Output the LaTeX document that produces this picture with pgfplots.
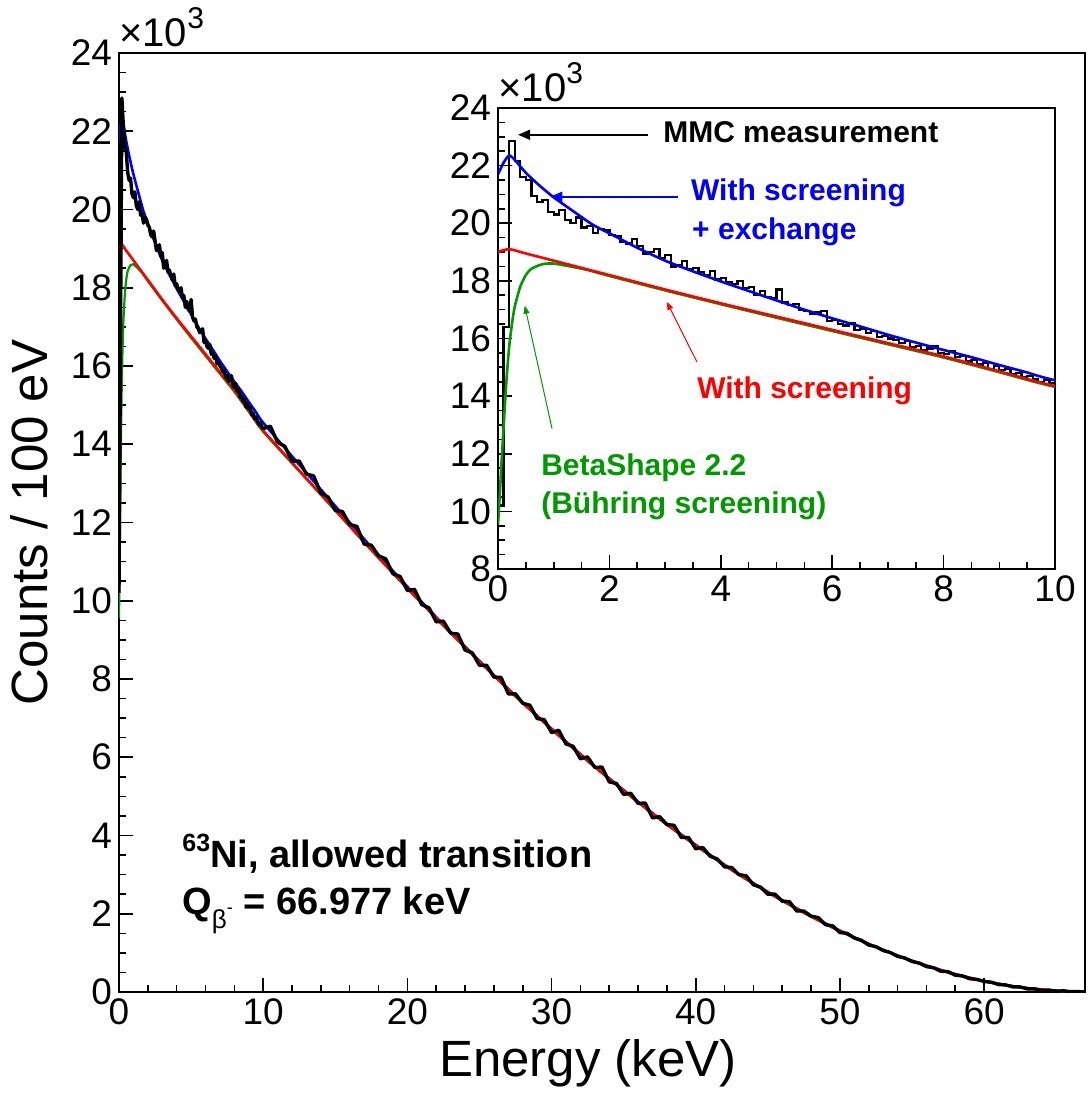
\documentclass[border=0pt]{standalone}
\usepackage{fontspec}
\setmainfont{Liberation Sans}
\usepackage{pgfplots}
\usepackage{pgfplotstable}
\pgfplotsset{compat=1.18}
\usetikzlibrary{arrows.meta}
\definecolor{rgreen}{RGB}{0,153,0}
\definecolor{rblue}{RGB}{0,0,255}
\definecolor{rred}{RGB}{255,0,0}

% measured spectrum (thousands of counts / 100 eV), 0.1 keV bins up to 10 keV
\pgfplotstableread{
x y
0.0 10.2
0.1 16.4
0.2 22.85
0.3 22.15
0.4 21.6
0.5 21.5
0.6 20.95
0.7 20.75
0.8 20.8
0.9 20.4
1.0 20.3
1.1 20.45
1.2 20.1
1.3 20.0
1.4 20.2
1.5 19.85
1.6 19.9
1.7 19.65
1.8 19.8
1.9 19.75
2.0 19.6
2.1 19.55
2.2 19.35
2.3 19.3
2.4 19.45
2.5 19.2
2.6 18.95
2.7 19.0
2.8 19.1
2.9 18.8
3.0 18.9
3.1 18.5
3.2 18.55
3.3 18.7
3.4 18.4
3.5 18.45
3.6 18.3
3.7 18.2
3.8 18.35
3.9 18.05
4.0 18.1
4.1 17.95
4.2 17.9
4.3 18.0
4.4 17.75
4.5 17.8
4.6 17.5
4.7 17.65
4.8 17.45
4.9 17.4
5.0 17.7
5.1 17.25
5.2 17.15
5.3 17.2
5.4 17.0
5.5 16.95
5.6 16.85
5.7 16.9
5.8 16.95
5.9 16.6
6.0 16.65
6.1 16.5
6.2 16.45
6.3 16.55
6.4 16.3
6.5 16.35
6.6 16.2
6.7 16.25
6.8 16.05
6.9 16.1
7.0 16.0
7.1 15.95
7.2 15.85
7.3 15.9
7.4 15.7
7.5 15.75
7.6 15.6
7.7 15.65
7.8 15.75
7.9 15.5
8.0 15.45
8.1 15.55
8.2 15.35
8.3 15.4
8.4 15.2
8.5 15.25
8.6 15.1
8.7 15.15
8.8 14.95
8.9 15.05
9.0 14.9
9.1 14.95
9.2 14.75
9.3 14.8
9.4 14.65
9.5 14.7
9.6 14.6
9.7 14.5
9.8 14.55
9.9 14.45
10.0 14.4
10.5 14.46
11.0 14.05
11.5 13.95
12.0 13.57
12.5 13.57
13.0 13.24
13.5 13.19
14.0 12.75
14.5 12.65
15.0 12.31
15.5 12.28
16.0 11.95
16.5 11.90
17.0 11.45
17.5 11.42
18.0 11.15
18.5 11.07
19.0 10.69
19.5 10.62
20.0 10.26
20.5 10.29
21.0 9.90
21.5 9.82
22.0 9.46
22.5 9.48
23.0 9.17
23.5 9.15
24.0 8.74
24.5 8.67
25.0 8.35
25.5 8.35
26.0 8.05
26.5 8.04
27.0 7.62
27.5 7.62
28.0 7.38
28.5 7.33
29.0 6.99
29.5 6.96
30.0 6.63
30.5 6.69
31.0 6.34
31.5 6.28
32.0 5.96
32.5 6.01
33.0 5.74
33.5 5.75
34.0 5.37
34.5 5.33
35.0 5.05
35.5 5.08
36.0 4.82
36.5 4.83
37.0 4.45
37.5 4.48
38.0 4.28
38.5 4.26
39.0 3.95
39.5 3.95
40.0 3.66
40.5 3.69
41.0 3.47
41.5 3.40
42.0 3.20
42.5 3.18
43.0 3.00
43.5 2.97
44.0 2.74
44.5 2.68
45.0 2.50
45.5 2.50
46.0 2.32
46.5 2.31
47.0 2.07
47.5 2.07
48.0 1.94
48.5 1.90
49.0 1.72
49.5 1.69
50.0 1.52
50.5 1.50
51.0 1.38
51.5 1.32
52.0 1.20
52.5 1.16
53.0 1.06
53.5 1.01
54.0 0.91
54.5 0.87
55.0 0.78
55.5 0.74
56.0 0.65
56.5 0.62
57.0 0.53
57.5 0.52
58.0 0.43
58.5 0.41
59.0 0.34
59.5 0.32
60.0 0.27
60.5 0.25
61.0 0.19
61.5 0.18
62.0 0.13
62.5 0.13
63.0 0.08
63.5 0.08
64.0 0.04
64.5 0.05
65.0 0.02
65.5 0.03
66.0 0.01
66.5 0.01
67.0 0.00
}\meas

% screening + exchange
\pgfplotstableread{
x y
0 21.7
0.1 22.1
0.2 22.35
0.3 22.2
0.5 21.75
0.75 21.3
1.0 20.9
1.4 20.35
1.7 19.95
2.1 19.55
2.5 19.15
3.0 18.7
3.5 18.33
4.0 17.98
4.5 17.65
5.0 17.32
5.5 17.0
6.0 16.7
6.5 16.42
7.0 16.13
7.5 15.86
8.0 15.6
8.5 15.35
9.0 15.08
9.5 14.82
10 14.55
12.5 13.48
15 12.42
17.5 11.37
20 10.36
22.5 9.39
25 8.46
27.5 7.57
30 6.73
32.5 5.92
35 5.16
37.5 4.43
40 3.76
42.5 3.13
45 2.56
47.5 2.04
50 1.57
52.5 1.15
55 0.80
57.5 0.51
60 0.28
62.5 0.12
65 0.03
66.977 0
}\blue

% screening only
\pgfplotstableread{
x y
0 19.0
0.2 19.1
0.5 18.95
1 18.7
2 18.2
3 17.7
4 17.22
5 16.76
6 16.3
7 15.84
8 15.38
9 14.86
10 14.35
12.5 13.33
15 12.32
17.5 11.3
20 10.32
22.5 9.37
25 8.45
27.5 7.56
30 6.72
32.5 5.91
35 5.15
37.5 4.42
40 3.75
42.5 3.12
45 2.55
47.5 2.03
50 1.56
52.5 1.15
55 0.79
57.5 0.50
60 0.28
62.5 0.12
65 0.03
66.977 0
}\red

% BetaShape 2.2
\pgfplotstableread{
x y
0 9.55
0.03 10.5
0.06 11.6
0.1 12.9
0.15 14.5
0.2 15.7
0.25 16.5
0.3 17.1
0.4 17.8
0.5 18.2
0.6 18.42
0.8 18.58
1.0 18.6
1.3 18.5
1.6 18.38
2 18.17
3 17.67
4 17.19
5 16.72
6 16.26
7 15.8
8 15.34
9 14.83
10 14.32
12.5 13.31
15 12.30
17.5 11.29
20 10.31
22.5 9.36
25 8.44
27.5 7.55
30 6.71
32.5 5.90
35 5.14
37.5 4.41
40 3.74
42.5 3.11
45 2.54
47.5 2.02
50 1.55
52.5 1.14
55 0.79
57.5 0.50
60 0.27
62.5 0.12
65 0.03
66.977 0
}\green

\pgfplotsset{
  rootaxis/.style={
    scale only axis,
    tick align=inside,
    tick pos=left,
    major tick length=7pt,
    minor tick length=3.5pt,
    axis line style={line width=0.9pt},
    every tick/.style={black, line width=0.8pt},
    /pgf/number format/assume math mode=true,
    tick label style={font=\fontsize{18.5}{18.5}\selectfont},
    clip mode=individual,
  }
}

\begin{document}
\begin{tikzpicture}
\useasboundingbox (-59.5pt,-57pt) rectangle (484pt,496pt);

\begin{axis}[rootaxis,
  at={(0pt,0pt)}, anchor=south west,
  width=483pt, height=469.5pt,
  xmin=0, xmax=67, ymin=0, ymax=24,
  xtick={0,10,...,60}, minor x tick num=4,
  ytick={0,2,...,24}, minor y tick num=3,
  xlabel={Energy (keV)}, ylabel={Counts / 100 eV},
  label style={font=\fontsize{25.5}{25.5}\selectfont},
  xlabel style={at={(axis description cs:0.4855,-0.0895)}, anchor=base},
  ylabel style={at={(axis description cs:-0.0745,0.5)}, anchor=base, rotate=0},
]
\addplot[rblue, line width=1.3pt, smooth, tension=0.4] table[x=x,y=y]{\blue};
\addplot[rgreen, line width=1.1pt, smooth, tension=0.4] table[x=x,y=y]{\green};
\addplot[rred, line width=1.3pt, smooth, tension=0.4] table[x=x,y=y]{\red};
\addplot[black, line width=1.7pt, line join=round] table[x=x,y=y]{\meas};

\node[anchor=base west, inner sep=0pt, font=\fontsize{20}{20}\selectfont]
  at ([yshift=3pt]rel axis cs:0,1) {×10\raisebox{0.45em}{\fontsize{15}{15}\selectfont 3}};

\node[anchor=base west, inner sep=0pt, font=\bfseries\fontsize{19}{19}\selectfont]
  at (axis cs:4.37,3.19) {\raisebox{0.42em}{\fontsize{12.5}{12.5}\selectfont 63}Ni, allowed transition};
\node[anchor=base west, inner sep=0pt, font=\bfseries\fontsize{19}{19}\selectfont]
  at (axis cs:4.37,1.97) {Q\raisebox{-0.35em}{\mdseries\fontsize{13}{13}\selectfont β\raisebox{0.55em}{\fontsize{9}{9}\selectfont -}}\ = 66.977 keV};
\end{axis}

\begin{axis}[rootaxis,
  at={(189.5pt,211.5pt)}, anchor=south west,
  width=278.5pt, height=230.5pt,
  xmin=0, xmax=10, ymin=8, ymax=24,
  xtick={0,2,...,10}, minor x tick num=3,
  ytick={8,10,...,24}, minor y tick num=3,
  axis background/.style={fill=white},
]
\addplot[black, line width=1.1pt, const plot mark left] table[x=x,y=y]{\meas};
\addplot[rblue, line width=1.3pt, smooth, tension=0.4] table[x=x,y=y]{\blue};
\addplot[rgreen, line width=1.3pt, smooth, tension=0.4] table[x=x,y=y]{\green};
\addplot[rred, line width=1.3pt, smooth, tension=0.4] table[x=x,y=y]{\red};

\node[anchor=base west, inner sep=0pt, font=\fontsize{20}{20}\selectfont]
  at ([yshift=3pt]rel axis cs:0,1) {×10\raisebox{0.45em}{\fontsize{15}{15}\selectfont 3}};

% annotations
\draw[black, line width=0.8pt, -{Triangle[length=6pt,width=5pt]}] (axis cs:2.69,23.07) -- (axis cs:0.36,23.07);
\node[anchor=base west, inner sep=0pt, font=\bfseries\fontsize{15}{15}\selectfont] at (axis cs:2.96,22.79) {MMC measurement};

\draw[rblue, line width=0.8pt, -{Triangle[length=6pt,width=5pt]}] (axis cs:3.23,20.92) -- (axis cs:0.94,20.92);
\node[anchor=base west, inner sep=0pt, text=rblue, font=\bfseries\fontsize{15}{15}\selectfont] at (axis cs:3.46,20.78) {With screening};
\node[anchor=base west, inner sep=0pt, text=rblue, font=\bfseries\fontsize{15}{15}\selectfont] at (axis cs:3.48,19.42) {+ exchange};

\draw[rred, line width=0.5pt, -{Triangle[length=4pt,width=3pt]}] (axis cs:3.57,15.19) -- (axis cs:3.03,17.27);
\node[anchor=base west, inner sep=0pt, text=rred, font=\bfseries\fontsize{15}{15}\selectfont] at (axis cs:3.57,13.90) {With screening};

\draw[rgreen, line width=0.5pt, -{Triangle[length=4pt,width=3pt]}] (axis cs:0.97,12.87) -- (axis cs:0.48,17.14);
\node[anchor=base west, inner sep=0pt, text=rgreen, font=\bfseries\fontsize{15}{15}\selectfont] at (axis cs:0.77,11.23) {BetaShape 2.2};
\node[anchor=base west, inner sep=0pt, text=rgreen, font=\bfseries\fontsize{15}{15}\selectfont] at (axis cs:0.77,9.94) {(Bühring screening)};
\end{axis}
\end{tikzpicture}
\end{document}
